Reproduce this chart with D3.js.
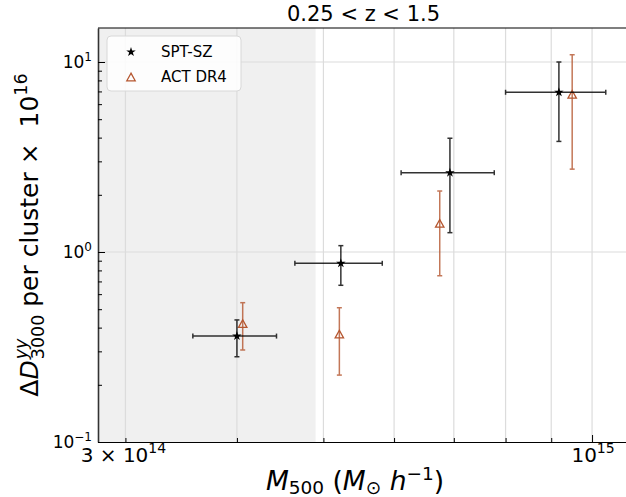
<!DOCTYPE html>
<html>
<head>
<meta charset="utf-8">
<script src="https://cdn.jsdelivr.net/npm/d3@7"></script>
<style>
  body { margin: 0; background: #fff; }
  text { font-family: "DejaVu Sans", sans-serif; fill: #000; white-space: pre; }
</style>
</head>
<body>
<div id="chart"></div>
<script>
// SPT-SZ points (mass bins with x error, signal with y error)
const sptMass   = [4.00e14, 5.23e14, 6.93e14, 9.18e14];
const sptMassLo = [3.57e14, 4.645e14, 6.11e14, 8.00e14];
const sptMassHi = [4.43e14, 5.82e14, 7.77e14, 1.036e15];
const sptSignal = [0.361, 0.872, 2.615, 6.93];
const sptLo     = [0.281, 0.668, 1.264, 3.82];
const sptHi     = [0.439, 1.08, 3.97, 10.0];

// ACT DR4 points
const actMass   = [4.06e14, 5.21e14, 6.75e14, 9.50e14];
const actSignal = [0.42, 0.37, 1.416, 6.76];
const actLo     = [0.305, 0.225, 0.750, 2.73];
const actHi     = [0.541, 0.509, 2.094, 10.92];

// axis ticks
const xMinorTicks = [3e14, 4e14, 5e14, 6e14, 7e14, 8e14, 9e14];
const xMajorTicks = [1e15];
const yMajorTicks = [0.1, 1, 10];
const shadeLimit = 4.9e14;

const width = 626, height = 497;
const plotLeft = 98, plotRight = 629, plotTop = 28, plotBottom = 442;

const svg = d3.select("#chart").append("svg")
    .attr("width", width)
    .attr("height", height);

const x = d3.scaleLog().domain([2.795e14, 1.1e15]).range([plotLeft, plotRight]);
const y = d3.scaleLog().domain([0.1, 15.1]).range([plotBottom, plotTop]);

const plot = svg.append("g");

// shaded excluded mass range
plot.append("rect")
    .attr("x", x.range()[0])
    .attr("y", plotTop)
    .attr("width", x(shadeLimit) - x.range()[0])
    .attr("height", plotBottom - plotTop)
    .attr("fill", "#f0f0f0");

// grid lines
plot.selectAll(".vgrid")
    .data(xMinorTicks.concat(xMajorTicks))
    .join("line")
    .attr("x1", d => x(d)).attr("x2", d => x(d))
    .attr("y1", plotTop).attr("y2", plotBottom)
    .attr("stroke", "#dcdcdc").attr("stroke-width", 1.2);

plot.selectAll(".hgrid")
    .data([1, 10])
    .join("line")
    .attr("x1", plotLeft).attr("x2", plotRight)
    .attr("y1", d => y(d)).attr("y2", d => y(d))
    .attr("stroke", "#dcdcdc").attr("stroke-width", 1.2);

// y minor ticks
const yMinorTicks = [];
[0.1, 1].forEach(dec => {
    for (let k = 2; k <= 9; k++) yMinorTicks.push(dec * k);
});

// axes with inward ticks
const axisStyle = g => {
    g.selectAll("text").remove();
    g.selectAll("line").attr("stroke", "#000").attr("stroke-width", 1);
};

svg.append("g")
    .attr("transform", `translate(0,${plotBottom})`)
    .call(d3.axisBottom(x).tickValues(xMinorTicks).tickSize(-4).tickSizeOuter(0).tickFormat(""))
    .call(axisStyle)
    .call(g => g.select(".domain").attr("stroke", "#000").attr("stroke-width", 1.2));

svg.append("g")
    .attr("transform", `translate(0,${plotBottom})`)
    .call(d3.axisBottom(x).tickValues(xMajorTicks).tickSize(-7).tickSizeOuter(0).tickFormat(""))
    .call(axisStyle)
    .call(g => g.select(".domain").remove());

svg.append("g")
    .attr("transform", `translate(${plotLeft},0)`)
    .call(d3.axisLeft(y).tickValues(yMinorTicks).tickSize(-4).tickSizeOuter(0).tickFormat(""))
    .call(axisStyle)
    .call(g => g.select(".domain").attr("stroke", "#333").attr("stroke-width", 1.6));

svg.append("g")
    .attr("transform", `translate(${plotLeft},0)`)
    .call(d3.axisLeft(y).tickValues(yMajorTicks).tickSize(-7).tickSizeOuter(0).tickFormat(""))
    .call(axisStyle)
    .call(g => g.select(".domain").remove());

// top spine
svg.append("line")
    .attr("x1", plotLeft).attr("x2", width)
    .attr("y1", plotTop).attr("y2", plotTop)
    .attr("stroke", "#000").attr("stroke-width", 1.2);

// rich text: pieces laid out one after another, with sub/superscripts
const richText = (parent, px, py, pieces, anchor, rotate) => {
    const g = parent.append("g");
    let cx = 0;
    pieces.forEach(p => {
        const t = g.append("text")
            .attr("x", cx)
            .attr("y", p.dy || 0)
            .attr("xml:space", "preserve")
            .style("font-size", p.fs + "px")
            .style("font-style", p.it ? "italic" : "normal")
            .text(p.t);
        const w = t.node().getComputedTextLength();
        if (!p.stay) cx += w + (p.gap || 0);
    });
    const shift = anchor === "middle" ? -cx / 2 : anchor === "end" ? -cx : 0;
    g.selectAll("text").attr("x", function () { return +d3.select(this).attr("x") + shift; });
    g.attr("transform", `translate(${px},${py})` + (rotate ? ` rotate(${rotate})` : ""));
    return g;
};

// y tick labels
const yLabels = [{v: 10, e: "1"}, {v: 1, e: "0"}, {v: 0.1, e: "−1"}];
yLabels.forEach(d => {
    richText(svg, plotLeft - 6, y(d.v) + 6, [
        {t: "10", fs: 17},
        {t: d.e, fs: 12, dy: -7.5}
    ], "end");
});

// x tick labels
richText(svg, x(3e14) - 2, 462, [
    {t: "3 × 10", fs: 20},
    {t: "14", fs: 14, dy: -9}
], "middle");
richText(svg, x(1e15) + 1, 462, [
    {t: "10", fs: 20},
    {t: "15", fs: 14, dy: -9}
], "middle");

// axis labels
richText(svg, 355, 490, [
    {t: "M", fs: 26.5, it: true},
    {t: "500", fs: 18.5, dy: 4},
    {t: " (", fs: 26.5},
    {t: "M", fs: 26.5, it: true},
    {t: "⊙", fs: 18.5, dy: 4},
    {t: " ", fs: 26.5},
    {t: "h", fs: 26.5, it: true},
    {t: "−1", fs: 18.5, dy: -10},
    {t: ")", fs: 26.5}
], "middle");

richText(svg, 38, (plotTop + plotBottom) / 2, [
    {t: "Δ", fs: 25},
    {t: "D", fs: 25, it: true, gap: 1},
    {t: "yy", fs: 17.5, dy: -11, it: true, stay: true},
    {t: "3000", fs: 17.5, dy: 6},
    {t: " per cluster × ", fs: 25},
    {t: " 10", fs: 25},
    {t: "16", fs: 17.5, dy: -11}
], "middle", -90);

// title
svg.append("text")
    .attr("x", (plotLeft + plotRight) / 2)
    .attr("y", 21)
    .attr("text-anchor", "middle")
    .style("font-size", "21px")
    .text("0.25 < z < 1.5");

// markers
const actColor = "#b5562f";
const star = d3.symbol().type(d3.symbolStar).size(28);
const triPath = "M0,-3.8L-4.2,3.8L4.2,3.8Z";
const cap = 2.5;

const spt = sptMass.map((m, i) => ({m, lo: sptMassLo[i], hi: sptMassHi[i], v: sptSignal[i], vlo: sptLo[i], vhi: sptHi[i]}));
const act = actMass.map((m, i) => ({m, v: actSignal[i], vlo: actLo[i], vhi: actHi[i]}));

// ACT DR4 error bars
const actG = svg.append("g");
act.forEach(d => {
    const e = actG.append("g").attr("stroke", actColor).attr("stroke-width", 1.5).attr("opacity", 0.8);
    e.append("line").attr("x1", x(d.m)).attr("x2", x(d.m)).attr("y1", y(d.vlo)).attr("y2", y(d.vhi));
    [d.vlo, d.vhi].forEach(v => e.append("line")
        .attr("x1", x(d.m) - cap).attr("x2", x(d.m) + cap)
        .attr("y1", y(v)).attr("y2", y(v)));
    actG.append("path")
        .attr("d", triPath)
        .attr("transform", `translate(${x(d.m)},${y(d.v)})`)
        .attr("fill", "none")
        .attr("stroke", actColor)
        .attr("stroke-width", 1.3);
});

// SPT-SZ error bars
const sptG = svg.append("g");
spt.forEach(d => {
    const e = sptG.append("g").attr("stroke", "#000").attr("stroke-width", 1.5).attr("opacity", 0.8);
    e.append("line").attr("x1", x(d.lo)).attr("x2", x(d.hi)).attr("y1", y(d.v)).attr("y2", y(d.v));
    e.append("line").attr("x1", x(d.m)).attr("x2", x(d.m)).attr("y1", y(d.vlo)).attr("y2", y(d.vhi));
    [d.lo, d.hi].forEach(m => e.append("line")
        .attr("x1", x(m)).attr("x2", x(m))
        .attr("y1", y(d.v) - cap).attr("y2", y(d.v) + cap));
    [d.vlo, d.vhi].forEach(v => e.append("line")
        .attr("x1", x(d.m) - cap).attr("x2", x(d.m) + cap)
        .attr("y1", y(v)).attr("y2", y(v)));
    sptG.append("path")
        .attr("d", star())
        .attr("transform", `translate(${x(d.m)},${y(d.v)})`)
        .attr("fill", "#000");
});

// legend
const legend = svg.append("g");
legend.append("rect")
    .attr("x", 107).attr("y", 36)
    .attr("width", 134).attr("height", 55)
    .attr("rx", 4)
    .attr("fill", "#fff").attr("fill-opacity", 0.85)
    .attr("stroke", "#d8d8d8");
legend.append("path")
    .attr("d", star())
    .attr("transform", "translate(131,52)")
    .attr("fill", "#000");
legend.append("path")
    .attr("d", triPath)
    .attr("transform", "translate(131,77)")
    .attr("fill", "none")
    .attr("stroke", actColor)
    .attr("stroke-width", 1.3);
legend.append("text").attr("x", 161).attr("y", 57).style("font-size", "15px").text("SPT-SZ");
legend.append("text").attr("x", 161).attr("y", 82).style("font-size", "15px").text("ACT DR4");
</script>
</body>
</html>
